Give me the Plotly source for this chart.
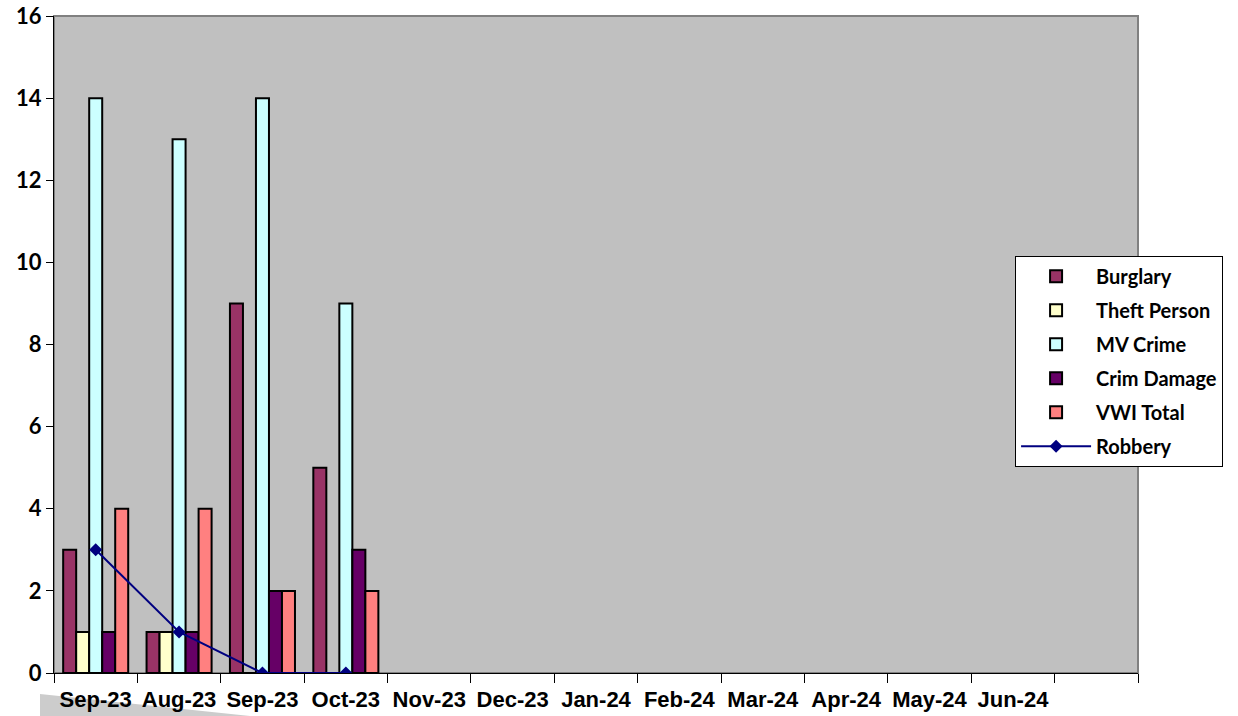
import plotly.graph_objects as go

months = ["Sep-23", "Aug-23", "Sep-23", "Oct-23", "Nov-23", "Dec-23", "Jan-24",
          "Feb-24", "Mar-24", "Apr-24", "May-24", "Jun-24", ""]
burglary = [3, 1, 9, 5, None, None, None, None, None, None, None, None, None]
theft_person = [1, 1, 0, 0, None, None, None, None, None, None, None, None, None]
mv_crime = [14, 13, 14, 9, None, None, None, None, None, None, None, None, None]
crim_damage = [1, 1, 2, 3, None, None, None, None, None, None, None, None, None]
vwi_total = [4, 4, 2, 2, None, None, None, None, None, None, None, None, None]
robbery = [3, 1, 0, 0, None, None, None, None, None, None, None, None, None]

x = list(range(len(months)))

bar_series = [
    ("Burglary", burglary, "#993366"),
    ("Theft Person", theft_person, "#FFFFCC"),
    ("MV Crime", mv_crime, "#CCFFFF"),
    ("Crim Damage", crim_damage, "#660066"),
    ("VWI Total", vwi_total, "#FF8080"),
]

fig = go.Figure()
for name, vals, col in bar_series:
    fig.add_trace(go.Bar(
        x=x, y=vals, name=name, legendgroup=name,
        marker=dict(color=col, line=dict(color="black", width=2)),
    ))

fig.add_trace(go.Scatter(
    x=x, y=robbery, name="Robbery", legendgroup="Robbery", mode="lines+markers",
    line=dict(color="#000080", width=2),
    marker=dict(symbol="diamond", size=10, color="#000080"),
))

fig.update_layout(
    width=1238, height=716,
    margin=dict(l=54, r=100, t=16, b=43),
    paper_bgcolor="white",
    plot_bgcolor="#C0C0C0",
    barmode="group",
    bargap=0.22,
    bargroupgap=0,
    showlegend=True,
    legend=dict(
        x=0.8866, xanchor="left", y=0.635, yanchor="top",
        bgcolor="white", bordercolor="black", borderwidth=1,
        font=dict(family="Lato, Open Sans, sans-serif", size=20, color="black", weight=700),
        traceorder="grouped",
        tracegroupgap=5,
        itemwidth=70,
    ),
    xaxis=dict(
        range=[-0.5, 12.5], automargin=False,
        tickmode="array", tickvals=x, ticktext=months,
        ticks="", showgrid=False, zeroline=False,
        showline=True, linecolor="black", linewidth=1,
        tickfont=dict(family="Liberation Sans, Arial, sans-serif", size=22, color="black", weight=700),
        ticklabelstandoff=7,
        ticklabeloverflow="allow",
        minor=dict(tickmode="linear", tick0=-0.5, dtick=1, ticks="outside",
                   ticklen=9, tickwidth=1, tickcolor="black", showgrid=False),
    ),
    yaxis=dict(
        range=[0, 16], dtick=2, tick0=0, automargin=False,
        ticks="outside", ticklen=7, tickwidth=1, tickcolor="black",
        showgrid=False, zeroline=False,
        showline=True, linecolor="black", linewidth=1,
        ticklabeloverflow="allow",
        tickfont=dict(family="Lato, Open Sans, sans-serif", size=22, color="black", weight=700),
    ),
    shapes=[
        dict(type="rect", xref="paper", yref="paper", x0=0, x1=1, y0=0, y1=1,
             line=dict(color="#808080", width=2), layer="below"),
        dict(type="path", xref="paper", yref="paper",
             path="M -0.0129,-0.032 L 0.1808,-0.0654 L -0.0129,-0.0654 Z",
             fillcolor="#cccccc", line=dict(width=0), layer="below"),
    ],
)

fig.write_html("out.html", config={"displayModeBar": False},
               post_script="document.body.style.margin='0';")
